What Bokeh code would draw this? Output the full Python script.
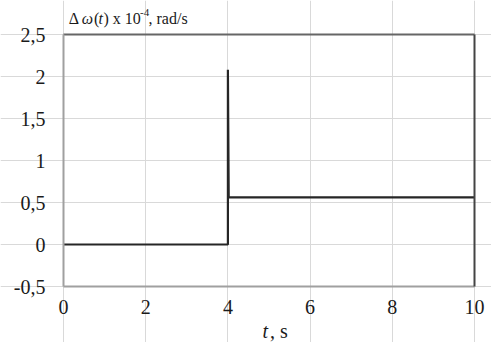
from bokeh.plotting import figure
from bokeh.models import Range1d, FixedTicker, Label, LinearAxis
from bokeh.embed import file_html
from bokeh.resources import INLINE

# data
t = [0, 4, 4, 4.02, 10]
dw = [0, 0, 2.08, 0.56, 0.56]

x_ticks = [0, 2, 4, 6, 8, 10]
x_tick_labels = ["0", "2", "4", "6", "8", "10"]
y_ticks = [-0.5, 0, 0.5, 1, 1.5, 2, 2.5]
y_tick_labels = ["-0,5", "0", "0,5", "1", "1,5", "2", "2,5"]

title_parts = [("Δ", "normal"), ("ω", "italic"), ("(", "normal"), ("t", "italic"),
               (") x 10", "normal"), ("-4", "sup"), (", rad/s", "normal")]
title_offsets = [5.3, 18.2, 30.5, 35, 40, 76.5, 85]
xlabel_parts = [("t", "italic"), (", s", "normal")]
xlabel_offsets = [-6.5, 1]

# layout (pixels)
W, H = 491, 342
LEFT_PX, RIGHT_PX, TOP_PX, BOTTOM_PX = 63, 17, 34, 56
X0, X1 = 0, 10
Y0, Y1 = -0.5, 2.5
xppu = (W - LEFT_PX - RIGHT_PX) / (X1 - X0)
yppu = (H - TOP_PX - BOTTOM_PX) / (Y1 - Y0)

FONT = "Times New Roman"
TXT = "#1a1a1a"

p = figure(width=W, height=H, output_backend="svg", toolbar_location=None,
           x_range=Range1d(X0 - LEFT_PX / xppu, X1 + RIGHT_PX / xppu),
           y_range=Range1d(Y0 - BOTTOM_PX / yppu, Y1 + TOP_PX / yppu),
           min_border_left=0, min_border_right=0, min_border_top=0,
           min_border_bottom=0)
p.background_fill_color = "white"
p.border_fill_color = "white"
p.outline_line_color = None

p.xgrid.ticker = FixedTicker(ticks=x_ticks)
p.ygrid.ticker = FixedTicker(ticks=y_ticks)
for g, b in ((p.xgrid, (Y0, Y1)), (p.ygrid, (X0, X1))):
    g.grid_line_color = "#d9d9d9"
    g.grid_line_width = 1
    g.bounds = b

p.line(t, dw, line_color="#262626", line_width=2.2)

xa, ya = p.xaxis[0], p.yaxis[0]
xa.fixed_location = Y0
xa.bounds = (X0, X1)
ya.fixed_location = X0
ya.bounds = (Y0, Y1)
for ax, ticks, labels in ((xa, x_ticks, x_tick_labels), (ya, y_ticks, y_tick_labels)):
    ax.ticker = FixedTicker(ticks=ticks)
    ax.major_label_overrides = {tk: lb for tk, lb in zip(ticks, labels)}
    ax.major_tick_line_color = None
    ax.minor_tick_line_color = None
    ax.major_tick_out = 0
    ax.major_tick_in = 0
    ax.axis_line_color = "#a0a0a0"
    ax.axis_line_width = 2
    ax.major_label_text_font = FONT
    ax.major_label_text_font_size = "20px"
    ax.major_label_text_color = TXT
ya.major_label_standoff = 18
xa.major_label_standoff = 13

# right and top edges of the box
for loc, bnds, side, col in ((X1, (Y0, Y1), "right", "#444444"),
                             (Y1, (X0, X1), "above", "#666666")):
    edge = LinearAxis(ticker=FixedTicker(ticks=[]), bounds=bnds, fixed_location=loc,
                      axis_line_color=col, axis_line_width=2,
                      major_tick_line_color=None, minor_tick_line_color=None,
                      major_label_text_font_size="0px", major_label_standoff=0)
    p.add_layout(edge, side)

for (txt, style), off in zip(title_parts, title_offsets):
    sup = style == "sup"
    p.add_layout(Label(x=X0, y=Y1, x_offset=off, y_offset=(22.5 if sup else 16),
                       text=txt, text_font=FONT,
                       text_font_size="11px" if sup else "16px",
                       text_color=TXT, text_font_style="normal" if sup else style,
                       text_baseline="alphabetic", text_align="left"))

for (txt, style), off in zip(xlabel_parts, xlabel_offsets):
    p.add_layout(Label(x=(X0 + X1) / 2, y=Y0, x_offset=off, y_offset=-44.5, text=txt,
                       text_font=FONT, text_font_size="20px", text_color=TXT,
                       text_font_style=style,
                       text_baseline="alphabetic", text_align="left"))

open("out.html", "w").write(file_html(p, INLINE))
